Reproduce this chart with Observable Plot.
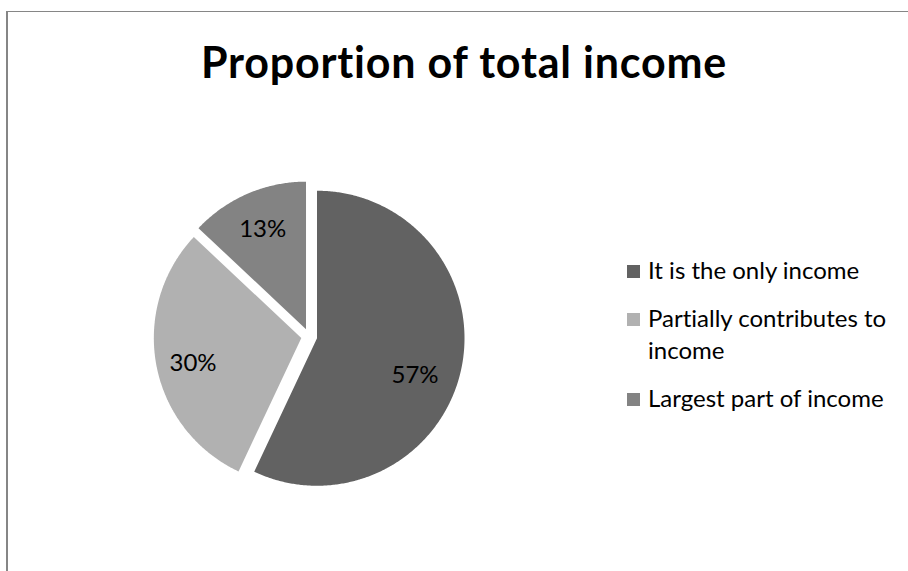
<!DOCTYPE html>
<html>
<head>
<meta charset="utf-8">
<script src="https://cdn.jsdelivr.net/npm/d3@7"></script>
<script src="https://cdn.jsdelivr.net/npm/@observablehq/plot@0.6"></script>
<style>
  html, body { margin: 0; padding: 0; background: #fff; }
  #chart { position: relative; width: 908px; height: 571px; overflow: hidden; font-family: Lato, "Open Sans", sans-serif; color: #000; font-variant-ligatures: none; font-feature-settings: "liga" 0, "clig" 0; }
  #chart .border-top { position: absolute; left: 6px; top: 11px; width: 902px; height: 1px; background: #868686; }
  #chart .border-left { position: absolute; left: 6px; top: 11px; width: 2px; height: 560px; background: #868686; }
  #chart svg { position: absolute; left: 0; top: 0; font-variant-ligatures: none; }
  #chart .title { position: absolute; left: 10px; width: 908px; top: 40px; text-align: center; font-weight: 700; font-size: 43px; line-height: 43px; letter-spacing: 0.8px; white-space: nowrap; }
  #chart .item { position: absolute; left: 648px; width: 262px; font-size: 24px; line-height: 32px; }
  #chart .swatch { position: absolute; left: 627px; width: 13px; height: 13px; }
</style>
</head>
<body>
<div id="chart">
  <div class="border-top"></div>
  <div class="border-left"></div>
</div>
<script>
// ---- data ----
const title = "Proportion of total income";
const categories = ["It is the only income", "Partially contributes to income", "Largest part of income"];
const values = [57, 30, 13];
const valueLabels = ["57%", "30%", "13%"];
const colors = ["#626262", "#b1b1b1", "#838383"];

// ---- layout ----
const W = 908, H = 571;
const cxPx = 308.7, cyPx = 336, rPx = 147.5;
const explode = 8 / rPx;                 // explosion distance in radius units
const labelRadius = [0.71, 0.755, 0.74];
const labelShiftDeg = [8, -2.6, 0];
const legendBaselines = [279, 327, 407];

const xDomain = [-cxPx / rPx, (W - cxPx) / rPx];
const yDomain = [-(H - cyPx) / rPx, cyPx / rPx];

// build slice polygons (clockwise from 12 o'clock)
const total = d3.sum(values);
const slicePoints = [];
const labelRows = [];
let acc = 0;
values.forEach((v, i) => {
  const a0 = acc / total * 2 * Math.PI;
  acc += v;
  const a1 = acc / total * 2 * Math.PI;
  const mid = (a0 + a1) / 2;
  const ox = explode * Math.sin(mid), oy = explode * Math.cos(mid);
  const n = Math.max(8, Math.ceil((a1 - a0) * 180 / Math.PI * 2));
  slicePoints.push({key: categories[i], x: ox, y: oy});
  for (let k = 0; k <= n; k++) {
    const a = a0 + (a1 - a0) * k / n;
    slicePoints.push({key: categories[i], x: ox + Math.sin(a), y: oy + Math.cos(a)});
  }
  slicePoints.push({key: categories[i], x: ox, y: oy});
  const la = mid + labelShiftDeg[i] * Math.PI / 180;
  labelRows.push({
    text: valueLabels[i],
    x: ox + labelRadius[i] * Math.sin(la),
    y: oy + labelRadius[i] * Math.cos(la)
  });
});

const plot = Plot.plot({
  width: W,
  height: H,
  marginTop: 0, marginRight: 0, marginBottom: 0, marginLeft: 0,
  x: {domain: xDomain, axis: null},
  y: {domain: yDomain, axis: null},
  color: {domain: categories, range: colors},
  style: {background: "transparent", fontFamily: "Lato, 'Open Sans', sans-serif"},
  marks: [
    Plot.line(slicePoints, {x: "x", y: "y", z: "key", fill: "key", stroke: "none", curve: "linear"}),
    Plot.text(labelRows, {x: "x", y: "y", text: "text", fontSize: 24, fill: "#000", textAnchor: "middle"})
  ]
});

const chart = document.getElementById("chart");
chart.appendChild(plot);

const t = document.createElement("div");
t.className = "title";
t.textContent = title;
chart.appendChild(t);

// legend
categories.forEach((c, i) => {
  const b = legendBaselines[i];
  const sw = document.createElement("div");
  sw.className = "swatch";
  sw.style.top = (b - 14) + "px";
  sw.style.background = colors[i];
  chart.appendChild(sw);
  const it = document.createElement("div");
  it.className = "item";
  it.style.top = (b - 25.3) + "px";
  it.textContent = c;
  chart.appendChild(it);
});
</script>
</body>
</html>
